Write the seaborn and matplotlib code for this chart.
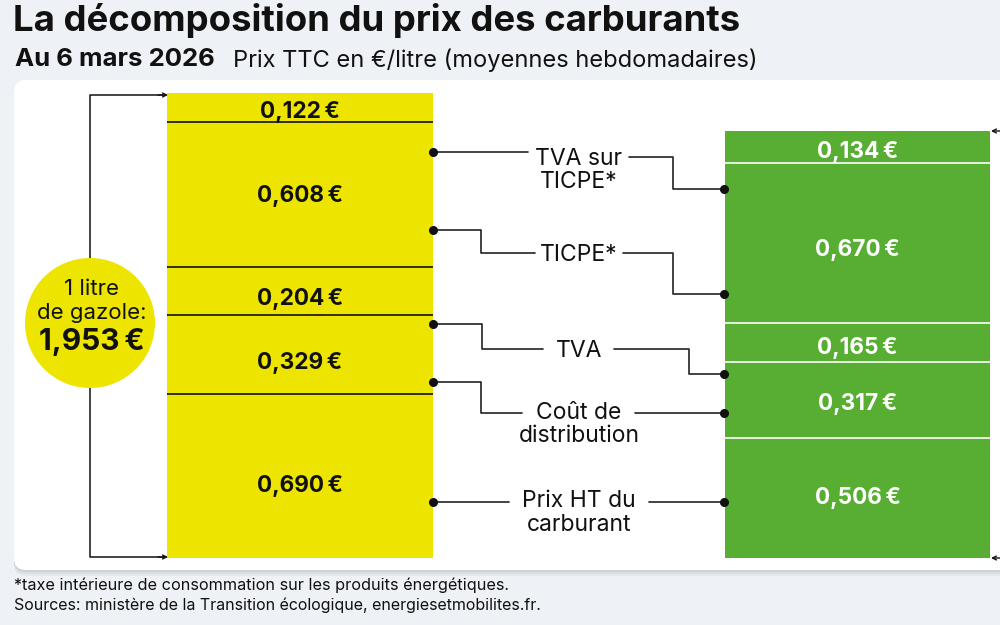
import matplotlib
matplotlib.use("Agg")
import matplotlib.pyplot as plt
import seaborn as sns
from matplotlib.patches import Circle, FancyBboxPatch

# ==============================================================================
# DONNEES
# ==============================================================================
carburants = ["Gazole", "SP95"]
postes = ["TVA sur TICPE", "TICPE", "TVA", "Coût de distribution", "Prix HT du carburant"]
gazole = [0.122, 0.608, 0.204, 0.329, 0.690]
sp95 = [0.134, 0.670, 0.165, 0.317, 0.506]
total_gazole = 1.953

titre = "La décomposition du prix des carburants"
date_txt = "Au 6 mars 2026"
sous_titre = "Prix TTC en €/litre (moyennes hebdomadaires)"
note = "*taxe intérieure de consommation sur les produits énergétiques."
sources = "Sources: ministère de la Transition écologique, energiesetmobilites.fr."

# ==============================================================================
# CONFIG
# ==============================================================================
FOND = "#EEF1F5"
JAUNE = "#EDE500"
VERT = "#57AE33"
NOIR = "#111111"
LARGEUR = 0.477

# décalage vertical des étiquettes par rapport au centre du segment (px)
decal_gazole = [4, 2, 8, 8, 10]
decal_sp95 = [5, 7, 6, 4, 0]

sns.set_theme(style="white")
plt.rcParams["font.family"] = ["Inter", "DejaVu Sans"]


def euro(v):
    return f"{v:.3f}".replace(".", ",") + "\u2009€"


fig = plt.figure(figsize=(10, 6.25), dpi=100, facecolor=FOND)

# couche du fond, en pixels
ax_fond = fig.add_axes([0, 0, 1, 1], zorder=0)
ax_fond.set_xlim(0, 1000)
ax_fond.set_ylim(625, 0)
ax_fond.axis("off")
for i, a in zip([6, 4, 2], [0.05, 0.07, 0.09]):
    ax_fond.add_patch(FancyBboxPatch((14, 80 + i / 2), 1010, 490 + i / 2,
                                     boxstyle="round,pad=0,rounding_size=12",
                                     fc="#50535A", ec="none", alpha=a))
ax_fond.add_patch(FancyBboxPatch((14, 80), 1010, 490, boxstyle="round,pad=0,rounding_size=12",
                                 fc="white", ec="none"))

# barres empilées : 1 euro = 238,1 px, zéro à y=558 px
ax = fig.add_axes([0, 0, 1, 1], zorder=1)
ax.patch.set_alpha(0)
for carb, valeurs, decal, coul, sep, txt in [(carburants[0], gazole, decal_gazole, JAUNE, NOIR, NOIR),
                                             (carburants[1], sp95, decal_sp95, VERT, "white", "white")]:
    haut = sum(valeurs)
    pos = carburants.index(carb)
    for v, d in zip(valeurs, decal):
        bas = haut - v
        sns.barplot(x=[carb], y=[v], order=carburants, bottom=bas, color=coul, saturation=1,
                    width=LARGEUR, linewidth=0, ax=ax)
        if bas > 0:
            ax.hlines(bas, pos - LARGEUR / 2, pos + LARGEUR / 2, color=sep, lw=1.2)
        ax.annotate(euro(v), (pos, bas + v / 2), xytext=(0, -d * 0.72), textcoords="offset points",
                    ha="center", va="center", color=txt, fontsize=16.3, fontweight="bold")
        haut = bas
ax.set_xlim(-300 / 557.5, 700 / 557.5)
ax.set_ylim(-67 / 238.1, 558 / 238.1)
ax.axis("off")

# couche des annotations, en pixels
ax_px = fig.add_axes([0, 0, 1, 1], zorder=2)
ax_px.patch.set_alpha(0)
ax_px.set_xlim(0, 1000)
ax_px.set_ylim(625, 0)
ax_px.axis("off")

# accolade du total et cercle
ax_px.plot([165, 90, 90], [95, 95, 260], color=NOIR, lw=1.1)
ax_px.plot([165, 90, 90], [557, 557, 386], color=NOIR, lw=1.1)
for y in [95, 557]:
    ax_px.annotate("", xy=(168, y), xytext=(158, y),
                   arrowprops=dict(arrowstyle="->", color=NOIR, lw=1, mutation_scale=7, shrinkA=0, shrinkB=0))
for y in [131, 558]:
    ax_px.annotate("", xy=(991, y), xytext=(1002, y),
                   arrowprops=dict(arrowstyle="->", color=NOIR, lw=1, mutation_scale=7, shrinkA=0, shrinkB=0))
ax_px.add_patch(Circle((90, 323), 65, fc=JAUNE, ec="none", zorder=3))
ax_px.text(92, 289, "1 litre", ha="center", va="center", fontsize=16, color=NOIR, zorder=4)
ax_px.text(92, 313, "de gazole:", ha="center", va="center", fontsize=16, color=NOIR, zorder=4)
ax_px.text(92, 342, euro(total_gazole), ha="center", va="center", fontsize=21.5, fontweight="bold",
           color=NOIR, zorder=4)

# connecteurs : (xs, ys) côté gauche puis côté droit
connecteurs = [
    ([433, 528], [152, 152], [629, 673, 673, 724], [157, 157, 189, 189]),
    ([433, 481, 481, 535], [230, 230, 253, 253], [623, 673, 673, 724], [253, 253, 294, 294]),
    ([433, 482, 482, 543], [324, 324, 349, 349], [614, 689, 689, 724], [349, 349, 374, 374]),
    ([433, 481, 481, 522], [382, 382, 413, 413], [635, 724], [413, 413]),
    ([433, 509], [502, 502], [649, 724], [502, 502]),
]
for xg, yg, xd, yd in connecteurs:
    ax_px.plot(xg, yg, color="#222222", lw=1.2)
    ax_px.plot(xd, yd, color="#222222", lw=1.2)
    ax_px.plot([xg[0], xd[-1]], [yg[0], yd[-1]], "o", color=NOIR, ms=5.5, ls="none")

libelles = [("TVA sur", 159), ("TICPE*", 182), ("TICPE*", 255), ("TVA", 351),
            ("Coût de", 413), ("distribution", 436), ("Prix HT du", 501), ("carburant", 525)]
for lib, y in libelles:
    ax_px.text(579, y, lib, ha="center", va="center", fontsize=16.5, color=NOIR)

# textes
ax_px.text(13, 21, titre, ha="left", va="center", fontsize=26.3, fontweight="bold", color=NOIR)
ax_px.text(15, 60, date_txt, ha="left", va="center", fontsize=18.5, fontweight="bold", color=NOIR)
ax_px.text(233, 60, sous_titre, ha="left", va="center", fontsize=17, color=NOIR)
ax_px.text(14, 585, note, ha="left", va="center", fontsize=11.7, color=NOIR)
ax_px.text(14, 605, sources, ha="left", va="center", fontsize=11.5, color=NOIR)

fig.savefig("out.png", dpi=100, facecolor=FOND)
